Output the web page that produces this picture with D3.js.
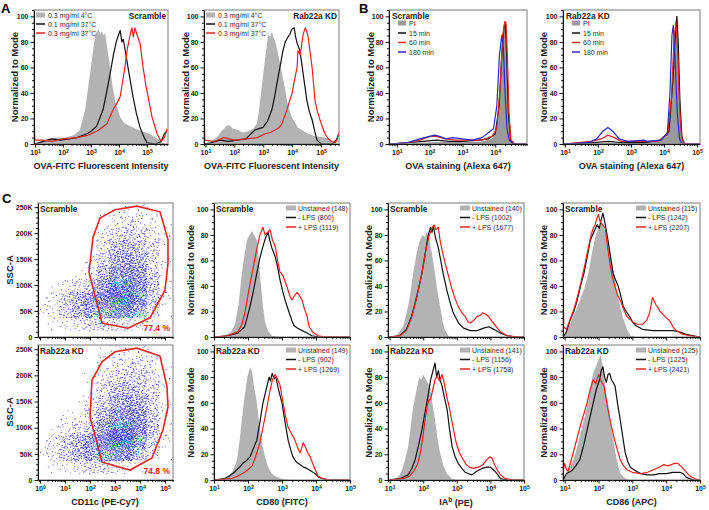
<!DOCTYPE html>
<html>
<head>
<meta charset="utf-8">
<script src="https://cdn.jsdelivr.net/npm/d3@7"></script>
<style>
  body { margin: 0; background: #fff; }
  text { font-family: "Liberation Sans", Arial, sans-serif; }
</style>
</head>
<body>
<div id="fig"></div>
<script>
// ---- data: [log10 intensity, % of mode] ----
// panel A, Scramble
var aScrGrey = [[0.96,0],[1.2,2],[1.5,4],[1.8,5],[2.1,5],[2.4,7],[2.6,11],[2.79,27],[2.9,45],[3.03,66],[3.14,84],[3.2,88],[3.27,90],[3.33,86],[3.39,88],[3.45,85],[3.5,87],[3.58,75],[3.68,60],[3.77,45],[3.86,34],[4.04,21],[4.2,16],[4.5,13],[4.8,10],[5.1,8],[5.3,5],[5.5,2],[5.65,0],[5.75,0]];
var aScrBlack = [[0.96,0],[1.3,2],[1.6,4],[1.9,3],[2.2,4],[2.5,5],[2.85,8],[3.0,10],[3.2,14],[3.43,27],[3.55,40],[3.68,55],[3.8,70],[3.9,80],[3.96,84],[4.04,89],[4.1,80],[4.15,82],[4.2,76],[4.32,60],[4.5,37],[4.62,24],[4.75,13],[4.9,5],[5.0,1],[5.3,0],[5.5,2],[5.62,8],[5.7,10]];
var aScrRed = [[0.96,27],[0.99,3],[1.3,3],[1.6,2],[2.0,4],[2.5,5],[2.9,7],[3.2,10],[3.4,13],[3.57,16],[3.79,27],[3.95,33],[4.04,37],[4.12,48],[4.21,60],[4.3,75],[4.4,86],[4.46,91],[4.51,84],[4.57,91],[4.65,85],[4.75,79],[4.86,60],[4.95,47],[5.04,37],[5.18,21],[5.36,8],[5.5,2],[5.62,5],[5.72,12]];
// panel A, Rab22a KD
var aKdGrey = [[0.95,0],[1.2,2],[1.43,6],[1.55,10],[1.64,12],[1.72,14],[1.81,15],[1.95,12],[2.13,11],[2.3,9],[2.47,10],[2.65,12],[2.78,16],[2.84,24],[2.89,34],[2.95,45],[3.0,55],[3.05,64],[3.1,73],[3.17,86],[3.24,84],[3.3,88],[3.36,83],[3.41,81],[3.51,71],[3.58,63],[3.65,55],[3.74,45],[3.82,34],[3.9,27],[3.99,21],[4.2,13],[4.4,10],[4.55,8],[4.8,6],[5.14,5],[5.3,3],[5.5,0],[5.62,0]];
var aKdBlack = [[0.95,0],[1.2,1],[1.5,3],[1.8,2],[2.1,3],[2.4,4],[2.71,11],[2.85,12],[2.99,13],[3.15,18],[3.3,27],[3.4,38],[3.51,52],[3.6,63],[3.68,73],[3.76,80],[3.86,84],[3.92,86],[3.99,90],[4.07,91],[4.12,84],[4.17,79],[4.22,76],[4.27,73],[4.38,55],[4.51,34],[4.6,25],[4.69,19],[4.78,10],[4.86,3],[5.0,0],[5.4,0],[5.52,3],[5.62,8]];
var aKdRed = [[0.95,27],[0.98,3],[1.3,2],[1.64,5],[2.0,3],[2.4,4],[2.8,5],[3.06,8],[3.25,9],[3.41,11],[3.55,13],[3.65,16],[3.82,27],[3.9,33],[3.99,39],[4.08,50],[4.17,60],[4.2,73],[4.28,70],[4.33,78],[4.38,86],[4.45,91],[4.51,88],[4.55,84],[4.62,72],[4.69,60],[4.74,47],[4.79,34],[4.88,25],[4.96,19],[5.05,13],[5.14,8],[5.25,4],[5.37,2],[5.5,1],[5.56,4],[5.62,9]];
var aLegend = ["0.3 mg/ml 4°C", "0.1 mg/ml 37°C", "0.3 mg/ml 37°C"];

// panel B
var bScrPI = [[0.76,0],[1.5,0.5],[2.2,1.5],[3.0,1.5],[3.6,2],[3.9,4],[4.05,12],[4.15,40],[4.22,75],[4.28,95],[4.32,97],[4.36,70],[4.4,30],[4.45,5],[4.55,0],[4.97,0]];
var bScr15 = [[0.76,0],[1.3,1],[1.8,2],[2.2,3],[2.6,2],[3.0,2],[3.5,3],[3.8,4],[4.0,8],[4.12,30],[4.2,70],[4.27,92],[4.31,94],[4.35,70],[4.4,25],[4.47,3],[4.6,0],[4.97,0]];
var bScr60 = [[0.76,0],[1.3,1],[1.7,3],[2.0,6],[2.2,6],[2.5,4],[2.8,3],[3.2,3],[3.6,3],[3.9,6],[4.05,12],[4.15,45],[4.23,85],[4.29,96],[4.33,95],[4.37,70],[4.42,25],[4.48,3],[4.6,0],[4.97,0]];
var bScr180 = [[0.76,0],[1.3,1],[1.7,4],[2.0,6],[2.15,7],[2.3,6],[2.5,4],[2.7,5],[3.0,4],[3.3,3],[3.6,5],[3.85,10],[3.95,12],[4.05,30],[4.13,70],[4.2,85],[4.25,75],[4.3,40],[4.36,12],[4.43,3],[4.55,0],[4.97,0]];
var bKdPI = [[0.94,0],[1.8,0.5],[2.3,1],[3.0,1],[3.8,2],[4.1,6],[4.22,30],[4.3,70],[4.36,95],[4.4,97],[4.44,70],[4.5,25],[4.56,4],[4.65,0],[5.09,0]];
var bKd15 = [[0.94,0],[1.8,1],[2.3,2],[2.8,1],[3.4,1],[3.9,3],[4.15,10],[4.27,50],[4.34,85],[4.39,100],[4.43,80],[4.48,35],[4.54,6],[4.62,0],[5.09,0]];
var bKd60 = [[0.94,0],[1.8,2],[2.1,4],[2.3,7],[2.5,5],[2.7,2],[3.2,2],[3.8,2],[4.1,7],[4.22,35],[4.3,80],[4.36,96],[4.41,75],[4.47,30],[4.53,5],[4.62,0],[5.09,0]];
var bKd180 = [[0.94,0],[1.7,1],[1.96,4],[2.15,10],[2.3,13],[2.45,10],[2.64,4],[2.9,2],[3.4,3],[3.5,2],[3.9,3],[4.1,8],[4.18,40],[4.24,85],[4.28,93],[4.33,70],[4.4,25],[4.47,4],[4.55,0],[5.09,0]];
var bLegend = ["PI", "15 min", "60 min", "180 min"];

// panel C, CD80
var cd80ScrUnst = [[1,0],[1.3,1],[1.5,4],[1.62,10],[1.72,25],[1.82,50],[1.9,65],[1.97,76],[2.05,80],[2.12,83],[2.18,80],[2.26,76],[2.3,65],[2.35,50],[2.4,35],[2.44,24],[2.5,12],[2.58,5],[2.7,1],[2.9,0],[5,0]];
var cd80ScrMinus = [[1,0],[1.4,1],[1.7,3],[1.9,8],[2.06,24],[2.15,35],[2.26,50],[2.35,62],[2.45,72],[2.52,78],[2.59,82],[2.64,76],[2.7,70],[2.8,63],[2.87,55],[2.94,45],[3.02,36],[3.09,29],[3.2,20],[3.29,13],[3.35,9],[3.45,7],[3.59,5],[3.75,3],[3.88,1],[4.1,0],[5,0]];
var cd80ScrPlus = [[1,0],[1.4,1],[1.7,4],[1.82,10],[1.91,19],[2.0,33],[2.12,50],[2.25,68],[2.35,80],[2.44,86],[2.5,80],[2.57,82],[2.65,84],[2.72,76],[2.8,71],[2.87,60],[2.94,51],[3.03,48],[3.15,39],[3.22,33],[3.29,29],[3.36,32],[3.44,35],[3.5,33],[3.59,29],[3.66,22],[3.74,16],[3.8,8],[3.9,4],[4.06,1],[4.3,0],[5,0]];
var cd80KdUnst = [[1,0],[1.3,1],[1.44,3],[1.53,6],[1.6,10],[1.68,16],[1.75,30],[1.82,47],[1.9,65],[1.98,80],[2.06,88],[2.12,84],[2.18,72],[2.26,60],[2.33,44],[2.41,29],[2.5,18],[2.59,10],[2.7,5],[2.8,3],[3.0,1],[3.2,0],[5,0]];
var cd80KdMinus = [[1,0],[1.3,1],[1.44,3],[1.6,6],[1.75,10],[1.85,13],[1.95,15],[2.06,18],[2.15,24],[2.26,31],[2.35,45],[2.44,60],[2.55,72],[2.62,80],[2.66,77],[2.71,83],[2.76,79],[2.82,80],[2.9,70],[3.0,60],[3.09,45],[3.18,31],[3.25,24],[3.32,18],[3.42,14],[3.53,12],[3.63,10],[3.73,9],[3.85,7],[3.97,5],[4.1,2],[4.2,1],[4.4,0],[5,0]];
var cd80KdPlus = [[1,0],[1.5,1],[1.7,3],[1.9,6],[2.0,8],[2.12,11],[2.22,18],[2.35,29],[2.45,42],[2.56,57],[2.65,70],[2.72,78],[2.8,82],[2.86,79],[2.94,74],[3.0,65],[3.03,60],[3.1,50],[3.18,41],[3.28,36],[3.38,31],[3.45,26],[3.53,21],[3.58,25],[3.62,29],[3.68,26],[3.76,21],[3.83,18],[3.9,13],[3.98,8],[4.06,3],[4.2,1],[4.4,0],[5,0]];
// panel C, IAb
var iabScrUnst = [[0.95,0],[1.2,1],[1.4,8],[1.55,24],[1.62,35],[1.7,50],[1.8,65],[1.9,76],[1.98,80],[2.05,78],[2.11,83],[2.18,77],[2.26,65],[2.35,50],[2.42,36],[2.5,24],[2.58,12],[2.65,5],[2.75,1],[2.9,0],[5,0]];
var iabScrMinus = [[0.95,0],[1.3,1],[1.5,6],[1.65,16],[1.76,27],[1.86,38],[1.96,50],[2.06,66],[2.15,80],[2.22,86],[2.26,82],[2.3,87],[2.36,78],[2.44,71],[2.52,60],[2.59,50],[2.7,37],[2.8,27],[2.88,20],[2.95,16],[3.05,11],[3.2,7],[3.4,5],[3.6,5],[3.8,7],[3.95,8],[4.1,6],[4.3,3],[4.5,1],[4.8,0],[5,0]];
var iabScrPlus = [[0.95,0],[1.3,1],[1.5,5],[1.65,15],[1.8,30],[1.96,50],[2.08,68],[2.18,80],[2.26,85],[2.32,88],[2.38,84],[2.45,86],[2.5,76],[2.56,68],[2.63,60],[2.71,52],[2.78,45],[2.86,37],[2.95,30],[3.04,24],[3.15,19],[3.25,16],[3.33,12],[3.4,11],[3.5,13],[3.6,16],[3.7,17],[3.77,19],[3.85,18],[3.95,16],[4.05,12],[4.15,9],[4.3,4],[4.5,1],[4.8,0],[5,0]];
var iabKdUnst = [[0.95,0],[1.2,1],[1.3,4],[1.37,8],[1.46,16],[1.55,26],[1.62,40],[1.7,57],[1.8,70],[1.88,80],[1.94,78],[2.0,82],[2.08,78],[2.15,75],[2.2,73],[2.27,60],[2.35,47],[2.42,33],[2.5,21],[2.6,11],[2.7,5],[2.85,1],[3.0,0],[5,0]];
var iabKdMinus = [[0.95,0],[1.3,1],[1.55,4],[1.66,9],[1.76,16],[1.86,27],[1.96,39],[2.05,52],[2.14,65],[2.22,78],[2.28,84],[2.35,91],[2.4,80],[2.45,85],[2.5,78],[2.56,73],[2.63,64],[2.71,55],[2.78,40],[2.86,26],[2.95,18],[3.04,13],[3.15,9],[3.25,6],[3.34,5],[3.45,4],[3.6,7],[3.75,9],[3.9,10],[4.0,10],[4.13,7],[4.22,4],[4.3,1],[4.5,0],[5,0]];
var iabKdPlus = [[0.95,0],[1.4,1],[1.6,3],[1.72,7],[1.84,13],[1.92,22],[1.99,34],[2.06,48],[2.12,58],[2.17,62],[2.22,63],[2.28,70],[2.35,78],[2.41,81],[2.48,77],[2.56,82],[2.62,76],[2.7,65],[2.77,57],[2.88,42],[2.98,29],[3.08,21],[3.19,16],[3.28,12],[3.37,10],[3.5,9],[3.65,10],[3.78,12],[3.9,16],[3.98,18],[4.05,17],[4.12,12],[4.2,8],[4.3,4],[4.45,1],[4.7,0],[5,0]];
// panel C, CD86
var cd86ScrUnst = [[0.95,0],[1.05,4],[1.15,10],[1.25,16],[1.35,22],[1.45,29],[1.58,38],[1.7,50],[1.8,65],[1.9,78],[1.98,84],[2.05,88],[2.1,90],[2.16,86],[2.24,78],[2.34,68],[2.42,55],[2.49,45],[2.56,34],[2.64,24],[2.72,15],[2.78,11],[2.86,5],[2.95,1],[3.1,0],[5,0]];
var cd86ScrMinus = [[0.95,0],[1.05,4],[1.17,14],[1.27,20],[1.37,29],[1.47,40],[1.57,50],[1.66,62],[1.76,76],[1.86,82],[1.96,88],[2.02,85],[2.08,92],[2.13,97],[2.2,88],[2.28,76],[2.36,62],[2.43,50],[2.5,45],[2.58,40],[2.66,32],[2.73,24],[2.82,20],[2.92,16],[3.0,12],[3.1,9],[3.3,6],[3.6,5],[3.9,5],[4.2,5],[4.4,4],[4.6,2],[4.8,1],[5,0]];
var cd86ScrPlus = [[0.95,84],[0.97,8],[1.05,6],[1.18,15],[1.3,24],[1.4,34],[1.5,45],[1.6,57],[1.7,70],[1.78,80],[1.84,85],[1.9,88],[1.95,93],[2.0,96],[2.05,90],[2.12,88],[2.2,85],[2.27,70],[2.34,57],[2.41,47],[2.49,39],[2.56,33],[2.64,29],[2.74,22],[2.84,16],[2.92,14],[3.0,12],[3.15,10],[3.3,10],[3.42,13],[3.5,18],[3.56,26],[3.6,31],[3.65,28],[3.7,25],[3.74,24],[3.82,20],[3.9,18],[4.0,15],[4.1,13],[4.2,8],[4.3,5],[4.5,2],[4.7,1],[5,0]];
var cd86KdUnst = [[0.95,0],[1.0,3],[1.07,6],[1.15,10],[1.22,13],[1.33,22],[1.45,34],[1.55,45],[1.66,57],[1.75,70],[1.84,83],[1.92,88],[1.98,92],[2.03,95],[2.06,98],[2.1,92],[2.15,85],[2.2,73],[2.28,60],[2.35,47],[2.42,34],[2.5,21],[2.57,12],[2.65,5],[2.75,2],[2.9,0],[5,0]];
var cd86KdMinus = [[0.95,0],[1.05,5],[1.2,7],[1.33,11],[1.45,16],[1.57,28],[1.68,41],[1.8,55],[1.93,70],[2.03,78],[2.08,85],[2.13,88],[2.18,80],[2.23,76],[2.28,82],[2.33,83],[2.38,78],[2.43,76],[2.49,73],[2.56,60],[2.64,47],[2.72,33],[2.79,21],[2.87,14],[2.94,10],[3.1,7],[3.25,5],[3.45,4],[3.63,4],[3.8,5],[4.0,5],[4.2,6],[4.4,6],[4.5,5],[4.6,2],[4.8,0],[5,0]];
var cd86KdPlus = [[0.95,6],[1.0,13],[1.05,8],[1.1,7],[1.18,14],[1.25,21],[1.35,31],[1.45,41],[1.55,50],[1.66,60],[1.75,70],[1.84,78],[1.92,75],[2.0,82],[2.06,78],[2.16,73],[2.23,62],[2.3,52],[2.38,42],[2.45,34],[2.55,24],[2.64,16],[2.74,11],[2.84,8],[3.0,6],[3.25,5],[3.45,6],[3.63,8],[3.8,10],[3.93,12],[4.05,11],[4.15,12],[4.25,13],[4.34,13],[4.42,11],[4.5,9],[4.6,6],[4.7,3],[4.85,1],[5,0]];

// legend counts (MFI) in panel C
var cd80Counts = [["148","800","1119"], ["149","902","1269"]];
var iabCounts  = [["140","1002","1677"], ["141","1156","1758"]];
var cd86Counts = [["115","1242","2207"], ["125","1225","2421"]];

// CD11c / SSC-A scatter: dot density per cell (0-9), columns = half decades from 10^0,
// rows = 25K bands from 250K (top) down to 0
var scatterScramble = [
  "00000011100",
  "00000122110",
  "00000233210",
  "00001344310",
  "00001455310",
  "00012566410",
  "01234677410",
  "12456787410",
  "01233332100",
  "00000000000"];
var scatterKd = [
  "00000111100",
  "00000122210",
  "00001233210",
  "00001344310",
  "00012455410",
  "00113566410",
  "01234687410",
  "13456786310",
  "01233321000",
  "00000000000"];
// gates: [log10 CD11c, SSC-A]
var gateScramble = [[1.96,125000],[2.12,192000],[2.4,229000],[3.0,245000],[3.88,252000],[4.8,241000],[5.12,187000],[5.12,142000],[5.0,90000],[4.4,37000],[3.52,17000],[2.48,27000],[2.28,65000]];
var gateKd = [[2.08,191000],[2.48,226000],[3.0,245000],[3.88,252000],[4.8,237000],[5.08,178000],[5.12,140000],[4.92,96000],[4.48,42000],[3.6,19000],[2.48,34000],[2.28,71000],[2.0,120000]];
var gatePercent = ["77.4 %", "74.8 %"];

var yTicks = [0, 20, 40, 60, 80, 100];
var sscTicks = [0, 50000, 100000, 150000, 200000, 250000];

// ---- drawing ----
var RED = "#e52421", BLACK = "#111", BLUE = "#2a2acc", GREY = "#b3b3b3";
var svg = d3.select("#fig").append("svg").attr("width", 709).attr("height", 510);
var clipCount = 0;

function styleAxis(ax) {
  ax.attr("font-family", null).attr("font-size", 7).attr("font-weight", "bold");
  ax.selectAll("text").attr("fill", "#222");
  ax.selectAll("line, path").attr("stroke", "#111");
}

function logAxis(x, yPos, labels) {
  var d = x.domain(), lo = Math.log10(d[0]), hi = Math.log10(d[1]);
  var major = d3.range(Math.ceil(lo - 1e-9), Math.floor(hi + 1e-9) + 1);
  var minor = [];
  for (var e = Math.floor(lo); e <= hi; e++)
    for (var m = 2; m < 10; m++) { var v = m * Math.pow(10, e); if (v >= d[0] && v <= d[1]) minor.push(v); }
  var g1 = svg.append("g").attr("transform", "translate(0," + yPos + ")")
    .call(d3.axisBottom(x).tickValues(minor).tickSize(2).tickSizeOuter(0).tickFormat(""));
  g1.select(".domain").remove();
  styleAxis(g1);
  var g2 = svg.append("g").attr("transform", "translate(0," + yPos + ")")
    .call(d3.axisBottom(x).tickValues(major.map(function(e) { return Math.pow(10, e); }))
      .tickSize(3.5).tickSizeOuter(0).tickPadding(3).tickFormat(""));
  styleAxis(g2);
  g2.selectAll(".tick text").each(function(v) {
    var t = d3.select(this);
    if (!labels) { t.remove(); return; }
    t.text("10");
    t.append("tspan").attr("dy", "-0.45em").attr("font-size", 5.2).text(Math.round(Math.log10(v)));
  });
}

function linAxis(y, xPos, major, minorStep, fmt) {
  var d = y.domain();
  var minor = d3.range(d[0], d[1] + 1, minorStep).filter(function(v) { return major.indexOf(v) < 0; });
  var g1 = svg.append("g").attr("transform", "translate(" + xPos + ",0)")
    .call(d3.axisLeft(y).tickValues(minor).tickSize(2).tickSizeOuter(0).tickFormat(""));
  g1.select(".domain").remove();
  styleAxis(g1);
  var g2 = svg.append("g").attr("transform", "translate(" + xPos + ",0)")
    .call(d3.axisLeft(y).tickValues(major).tickSize(3.5).tickSizeOuter(0).tickPadding(2).tickFormat(fmt));
  styleAxis(g2);
}

function yTitle(txt, cx, cy) {
  svg.append("text").attr("transform", "translate(" + cx + "," + cy + ") rotate(-90)")
    .attr("text-anchor", "middle").attr("font-size", 9.5).attr("font-weight", "bold")
    .attr("fill", "#222").text(txt);
}

function xTitle(txt, cx, cy, sup) {
  var t = svg.append("text").attr("x", cx).attr("y", cy).attr("text-anchor", "middle")
    .attr("font-size", 9).attr("font-weight", "bold").attr("fill", "#222");
  if (sup) {
    t.append("tspan").text(txt[0]);
    t.append("tspan").attr("dy", "-0.45em").attr("font-size", 6.5).text(sup);
    t.append("tspan").attr("dy", "0.45em").text(txt[1]);
  } else t.text(txt);
}

function histPanel(p) {
  var x = d3.scaleLog().domain([Math.pow(10, p.xd[0]), Math.pow(10, p.xd[1])]).range([p.x0, p.x1]);
  var y = d3.scaleLinear().domain([0, 105]).range([p.y1, p.y0]);
  var id = "clip" + (clipCount++);
  svg.append("clipPath").attr("id", id).append("rect")
    .attr("x", p.x0).attr("y", p.y0).attr("width", p.x1 - p.x0).attr("height", p.y1 - p.y0);
  var g = svg.append("g").attr("clip-path", "url(#" + id + ")");
  var px = function(d) { return x(Math.pow(10, d[0])); };
  p.series.forEach(function(s) {
    if (s.fill) {
      g.append("path").datum(s.data).attr("fill", s.color)
        .attr("d", d3.area().x(px).y0(y(0)).y1(function(d) { return y(d[1]); }));
    } else {
      g.append("path").datum(s.data).attr("fill", "none").attr("stroke", s.color)
        .attr("stroke-width", 1.2).attr("stroke-linejoin", "round")
        .attr("d", d3.line().x(px).y(function(d) { return y(d[1]); }));
    }
  });
  svg.append("rect").attr("x", p.x0).attr("y", p.y0).attr("width", p.x1 - p.x0)
    .attr("height", p.y1 - p.y0).attr("fill", "none").attr("stroke", "#7a7a7a").attr("stroke-width", 1);
  linAxis(y, p.x0, yTicks, 5, d3.format("d"));
  logAxis(x, p.y1, p.xLabels);

  // title
  svg.append("text").attr("x", p.titleAnchor === "end" ? p.x1 - 2 : p.x0 + p.titleDx)
    .attr("y", p.y0 + 8.5).attr("text-anchor", p.titleAnchor).attr("font-size", 8.3)
    .attr("font-weight", "bold").attr("fill", "#222").text(p.title);
  // legend
  var L = p.legend;
  p.series.forEach(function(s, i) {
    var cy = L.y[i];
    if (s.fill) {
      svg.append("rect").attr("x", L.s0).attr("y", cy - 2.5).attr("width", L.s1 - L.s0)
        .attr("height", 5).attr("fill", s.color);
    } else {
      svg.append("line").attr("x1", L.s0).attr("x2", L.s1).attr("y1", cy).attr("y2", cy)
        .attr("stroke", s.color).attr("stroke-width", 1.5);
    }
    svg.append("text").attr("x", L.tx).attr("y", cy + 2.5).attr("font-size", 7)
      .attr("fill", "#333").text(s.label);
  });
}

function frac(v) { return v - Math.floor(v); }
function halton(i, b) {
  var f = 1, r = 0;
  while (i > 0) { f /= b; r += f * (i % b); i = Math.floor(i / b); }
  return r;
}

function scatterPanel(p) {
  var x = d3.scaleLog().domain([Math.pow(10, -0.08), Math.pow(10, 5.32)]).range([p.x0, p.x1]);
  var y = d3.scaleLinear().domain([0, 258000]).range([p.y1, p.y0]);
  var id = "clip" + (clipCount++);
  svg.append("clipPath").attr("id", id).append("rect")
    .attr("x", p.x0).attr("y", p.y0).attr("width", p.x1 - p.x0).attr("height", p.y1 - p.y0);
  // each cell's dots are spread over a 2x2-cell area with a fixed, shifted Halton layout
  var dots = [];
  p.grid.forEach(function(row, r) {
    row.split("").forEach(function(ch, c) {
      var L = +ch;
      if (!L) return;
      var n = Math.round(7 * L + 3 * L * L);
      var ci = r * 11 + c + 1;
      var su = frac(ci * 0.7548776662), sv = frac(ci * 0.5698402910);
      for (var k = 0; k < n; k++) {
        var u = frac(halton(k + 1, 2) + su), v = frac(halton(k + 1, 3) + sv);
        var col = (k % 2) ? "#1c1cc4" : "#4646f0";
        if (L >= 7 && k % 6 === 0) col = "#3cc444";
        else if (L >= 7 && k % 6 === 3) col = "#30b4dc";
        else if (L === 6 && k % 8 === 0) col = "#34b0d8";
        dots.push({ lx: (c + 0.5 + (u - 0.5) * 2) * 0.5, sy: 250000 - (r + 0.5 + (v - 0.5) * 2) * 25000, col: col });
      }
    });
  });
  svg.append("g").attr("clip-path", "url(#" + id + ")").selectAll("rect").data(dots).join("rect")
    .attr("x", function(d) { return x(Math.pow(10, d.lx)); })
    .attr("y", function(d) { return y(d.sy); })
    .attr("width", 0.9).attr("height", 0.9).attr("fill", function(d) { return d.col; });
  svg.append("path").datum(p.gate).attr("fill", "none").attr("stroke", RED).attr("stroke-width", 1.6)
    .attr("d", d3.line().x(function(d) { return x(Math.pow(10, d[0])); })
      .y(function(d) { return y(d[1]); }).curve(d3.curveLinearClosed));
  svg.append("rect").attr("x", p.x0).attr("y", p.y0).attr("width", p.x1 - p.x0)
    .attr("height", p.y1 - p.y0).attr("fill", "none").attr("stroke", "#7a7a7a");
  linAxis(y, p.x0, sscTicks, 10000, function(v) { return v ? (v / 1000) + "K" : "0"; });
  logAxis(x, p.y1, p.xLabels);
  svg.append("text").attr("x", p.x0 + 2).attr("y", p.y0 + 8.5).attr("font-size", 8.3)
    .attr("font-weight", "bold").attr("fill", "#222").text(p.title);
  svg.append("text").attr("x", p.x1 - 3).attr("y", p.y1 - 6).attr("text-anchor", "end")
    .attr("font-size", 8.5).attr("font-weight", "bold").attr("fill", RED).text(p.pct);
}

// panel A
[{ x0: 34, x1: 168, xd: [0.96, 5.75], title: "Scramble", g: aScrGrey, k: aScrBlack, r: aScrRed, yt: 14 },
 { x0: 204, x1: 339, xd: [0.95, 5.62], title: "Rab22a KD", g: aKdGrey, k: aKdBlack, r: aKdRed, yt: 185 }]
.forEach(function(a) {
  histPanel({ x0: a.x0, x1: a.x1, y0: 10, y1: 144, xd: a.xd, xLabels: true,
    title: a.title, titleAnchor: "end",
    series: [{ data: a.g, color: GREY, fill: true, label: aLegend[0] },
             { data: a.k, color: BLACK, label: aLegend[1] },
             { data: a.r, color: RED, label: aLegend[2] }],
    legend: { s0: a.x0 + 2, s1: a.x0 + 11, tx: a.x0 + 14, y: [15, 24, 33] } });
  yTitle("Normalized to Mode", a.yt + 3.5, 77);
  xTitle("OVA-FITC Fluorescent Intensity", (a.x0 + a.x1) / 2, 169);
});

// panel B
[{ x0: 389, x1: 527, xd: [0.76, 4.97], title: "Scramble", s: [bScrPI, bScr15, bScr60, bScr180], yt: 370 },
 { x0: 563, x1: 700, xd: [0.94, 5.09], title: "Rab22a KD", s: [bKdPI, bKd15, bKd60, bKd180], yt: 543 }]
.forEach(function(b) {
  histPanel({ x0: b.x0, x1: b.x1, y0: 10, y1: 144, xd: b.xd, xLabels: true,
    title: b.title, titleAnchor: "start", titleDx: 3,
    series: [{ data: b.s[0], color: "#9a9a9a", fill: true, label: bLegend[0] },
             { data: b.s[1], color: BLACK, label: bLegend[1] },
             { data: b.s[2], color: RED, label: bLegend[2] },
             { data: b.s[3], color: BLUE, label: bLegend[3] }],
    legend: { s0: b.x0 + 9, s1: b.x0 + 17, tx: b.x0 + 20, y: [23, 33, 42.5, 52] } });
  yTitle("Normalized to Mode", b.yt + 3.5, 77);
  xTitle("OVA staining (Alexa 647)", (b.x0 + b.x1) / 2, 169);
});

// panel C scatter
scatterPanel({ x0: 38, x1: 173, y0: 203, y1: 337, grid: scatterScramble, gate: gateScramble,
  title: "Scramble", pct: gatePercent[0], xLabels: false });
scatterPanel({ x0: 38, x1: 173, y0: 345, y1: 480, grid: scatterKd, gate: gateKd,
  title: "Rab22a KD", pct: gatePercent[1], xLabels: true });
yTitle("SSC-A", 12.5, 270);
yTitle("SSC-A", 12.5, 412);
xTitle("CD11c (PE-Cy7)", 105, 505);

// panel C histograms
var cCols = [
  { x0: 214, x1: 350, xd: [1, 5], yt: 190, xt: "CD80 (FITC)",
    data: [[cd80ScrUnst, cd80ScrMinus, cd80ScrPlus], [cd80KdUnst, cd80KdMinus, cd80KdPlus]], n: cd80Counts },
  { x0: 388, x1: 524, xd: [0.95, 5], yt: 368, xt: ["IA", " (PE)"], sup: "b",
    data: [[iabScrUnst, iabScrMinus, iabScrPlus], [iabKdUnst, iabKdMinus, iabKdPlus]], n: iabCounts },
  { x0: 563, x1: 700, xd: [0.95, 5], yt: 543, xt: "CD86 (APC)",
    data: [[cd86ScrUnst, cd86ScrMinus, cd86ScrPlus], [cd86KdUnst, cd86KdMinus, cd86KdPlus]], n: cd86Counts }];
var cRows = [{ y0: 203, y1: 337, title: "Scramble" }, { y0: 345, y1: 480, title: "Rab22a KD" }];

cCols.forEach(function(c) {
  cRows.forEach(function(r, ri) {
    var d = c.data[ri], n = c.n[ri];
    histPanel({ x0: c.x0, x1: c.x1, y0: r.y0, y1: r.y1, xd: c.xd, xLabels: ri === 1,
      title: r.title, titleAnchor: "start", titleDx: 2,
      series: [{ data: d[0], color: GREY, fill: true, label: "Unstained (" + n[0] + ")" },
               { data: d[1], color: BLACK, label: "- LPS (" + n[1] + ")" },
               { data: d[2], color: RED, label: "+ LPS (" + n[2] + ")" }],
      legend: { s0: c.x1 - 64, s1: c.x1 - 54, tx: c.x1 - 52, y: [r.y0 + 5, r.y0 + 14.5, r.y0 + 24] } });
    yTitle("Normalized to Mode", c.yt + 3.5, (r.y0 + r.y1) / 2);
  });
  xTitle(c.xt, (c.x0 + c.x1) / 2, 505, c.sup);
});

// panel letters
svg.append("text").attr("x", 1).attr("y", 13).attr("font-size", 13).attr("font-weight", "bold").text("A");
svg.append("text").attr("x", 359).attr("y", 13).attr("font-size", 13).attr("font-weight", "bold").text("B");
svg.append("text").attr("x", 2).attr("y", 203).attr("font-size", 13).attr("font-weight", "bold").text("C");
</script>
</body>
</html>
